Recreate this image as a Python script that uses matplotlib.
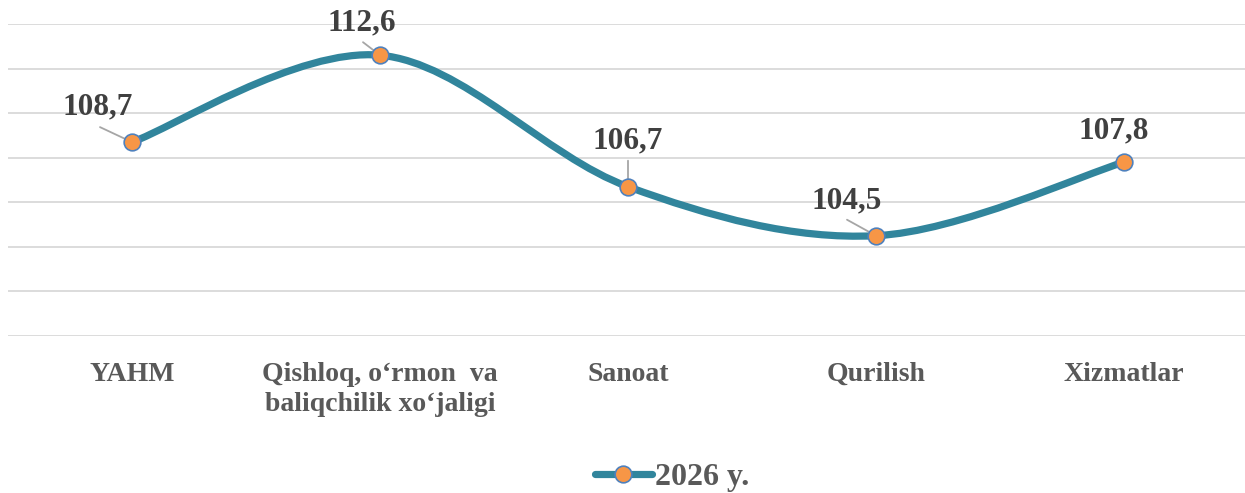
import numpy as np
import matplotlib
matplotlib.use('Agg')
import matplotlib.pyplot as plt
from matplotlib.path import Path
from matplotlib.patches import PathPatch
from matplotlib.lines import Line2D

categories = ['YAHM', 'Qishloq, o\u2018rmon  va\nbaliqchilik xo\u2018jaligi', 'Sanoat', 'Qurilish', 'Xizmatlar']
values = [108.7, 112.6, 106.7, 104.5, 107.8]
value_labels = ['108,7', '112,6', '106,7', '104,5', '107,8']
series_name = '2026 y.'

# label centre offsets and leader start offsets in pixels (dx, dy up) from the point
label_offsets = [(-34, 35), (-18, 32), (0, 46), (-29, 35), (-10, 31)]
leader_offsets = [(-32, 15), (-17, 13), (0, 26), (-29, 16), None]

line_color = '#31859C'
marker_face = '#F79646'
marker_edge = '#4F81BD'
grid_color = '#D9D9D9'
PX = 0.72  # points per pixel at 100 dpi

plt.rcParams['font.family'] = ['Liberation Serif', 'DejaVu Serif']

W, H = 1245, 493
fig = plt.figure(figsize=(W / 100, H / 100), dpi=100)
ax = fig.add_axes([8 / W, (H - 336) / H, 1240 / W, 312 / H])
ax.set_xlim(-0.5, len(categories) - 0.5)
ax.set_ylim(100, 114)
ax.set_yticks(np.arange(100, 115, 2))
ax.yaxis.grid(True, color=grid_color, linewidth=1.3)
ax.set_axisbelow(True)
for s in ax.spines.values():
    s.set_visible(False)
ax.tick_params(axis='y', left=False, labelleft=False)
ax.tick_params(axis='x', bottom=False, pad=15)
ax.set_xticks(range(len(categories)))
ax.set_xticklabels(categories, fontsize=20, fontweight='bold', color='#595959',
                   multialignment='center', linespacing=1.3)

# smoothed line (Catmull-Rom style bezier like Excel's smooth line)
x = np.arange(len(values), dtype=float)
y = np.array(values)
pts = np.column_stack([x, y])
ext = np.vstack([pts[0], pts, pts[-1]])
verts = [tuple(pts[0])]
codes = [Path.MOVETO]
for i in range(len(pts) - 1):
    p0, p1, p2, p3 = ext[i], ext[i + 1], ext[i + 2], ext[i + 3]
    c1 = p1 + (p2 - p0) / 6
    c2 = p2 - (p3 - p1) / 6
    verts += [tuple(c1), tuple(c2), tuple(p2)]
    codes += [Path.CURVE4] * 3
ax.add_patch(PathPatch(Path(verts, codes), facecolor='none', edgecolor=line_color,
                       linewidth=5.2, capstyle='round', joinstyle='round', zorder=3))
ax.plot(x, y, linestyle='none', marker='o', markersize=12, markerfacecolor=marker_face,
        markeredgecolor=marker_edge, markeredgewidth=1.2, zorder=4)

for xi, yi, lab, (dx, dy), ld in zip(x, y, value_labels, label_offsets, leader_offsets):
    ax.annotate(lab, (xi, yi), xytext=(dx * PX, dy * PX), textcoords='offset points',
                ha='center', va='center', fontsize=22.5, fontweight='bold', color='#404040',
                zorder=5)
    if ld is not None:
        ax.annotate('', (xi, yi), xytext=(ld[0] * PX, ld[1] * PX),
                    textcoords='offset points',
                    arrowprops=dict(arrowstyle='-', color='#A6A6A6', lw=1.3,
                                    shrinkA=0, shrinkB=0), zorder=3.5)

handle = Line2D([], [], color=line_color, linewidth=5.2, solid_capstyle='round',
                marker='o', markersize=12, markerfacecolor=marker_face,
                markeredgecolor=marker_edge, markeredgewidth=1.2)
fig.legend([handle], [series_name], loc='center', bbox_to_anchor=(672 / W, (H - 477) / H),
           frameon=False, handlelength=1.8, handletextpad=0.1,
           prop={'size': 23, 'weight': 'bold'}, labelcolor='#595959')

fig.savefig('out.png', dpi=100)
